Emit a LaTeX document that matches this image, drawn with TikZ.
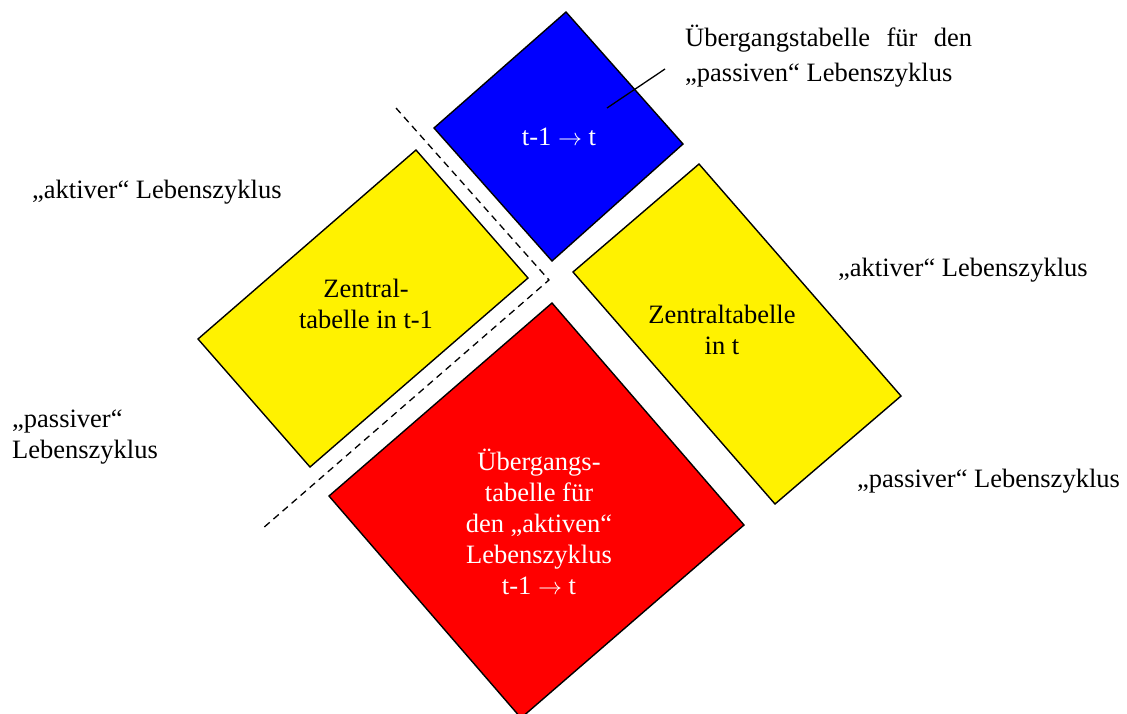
\documentclass[tikz,border=0pt]{standalone}
\usepackage{fontspec}
\setmainfont{Liberation Serif}
\newcommand{\tto}{\resizebox{24pt}{!}{$\rightarrow$}}
\begin{document}
\begin{tikzpicture}[x=1pt,y=-1pt,
  tile/.style={draw=black,line width=1.4pt,line join=miter},
  txt/.style={font=\fontsize{26.5}{31}\selectfont,inner sep=0pt,align=center},
  side/.style={txt,anchor=west,align=left},
  split/.style={line width=1.3pt,dash pattern=on 7pt off 5pt},
  lead/.style={line width=1.3pt}
]
\useasboundingbox (0,0) rectangle (1127,713);
\clip (0,0) rectangle (1127,713);

% corner points of the four tables
\coordinate (bT) at (566,12);  \coordinate (bR) at (683,144);
\coordinate (bB) at (552,261); \coordinate (bL) at (434,128);
\coordinate (lT) at (416,150); \coordinate (lR) at (528,278);
\coordinate (lB) at (310,467); \coordinate (lL) at (198,339);
\coordinate (rT) at (699,164); \coordinate (rR) at (901,396);
\coordinate (rB) at (775,504); \coordinate (rL) at (573,272);
\coordinate (aT) at (552,303); \coordinate (aR) at (744,525);
\coordinate (aB) at (521,718); \coordinate (aL) at (329,496);

% transition table, passive life cycle
\path[tile,fill=blue] (bT) -- (bR) -- (bB) -- (bL) -- cycle;
% central tables
\path[tile,fill=yellow] (lT) -- (lR) -- (lB) -- (lL) -- cycle;
\path[tile,fill=yellow] (rT) -- (rR) -- (rB) -- (rL) -- cycle;
% transition table, active life cycle
\path[tile,fill=red] (aT) -- (aR) -- (aB) -- (aL) -- cycle;

% dashed separator around the t-1 table
\coordinate (d1) at (396,108);
\coordinate (d2) at (549,280);
\coordinate (d3) at (262,529);
\draw[split] (d1) -- (d2) -- (d3);

% texts inside the tables
\node[txt,text=white] (blueT) at (559,137) {t-1 \tto\ t};
\node[txt] (leftT) at (366,304) {Zentral-\\tabelle in t-1};
\node[txt] (rightT) at (722,330) {Zentraltabelle\\in t};
\node[txt,text=white] (redT) at (539,522)
  {Übergangs-\\tabelle für\\den „aktiven“\\Lebenszyklus\\t-1 \tto\ t};

% side labels
\node[side] (la) at (32,192) {„aktiver“ Lebenszyklus};
\node[side] (lp) at (12,437) {„passiver“\\Lebenszyklus};
\node[side] (ra) at (838,270) {„aktiver“ Lebenszyklus};
\node[side] (rp) at (857,481) {„passiver“ Lebenszyklus};

% caption of the blue table with its leader line
\node[txt,align=left,anchor=west,
      font=\fontsize{26.5}{35}\selectfont] (cap) at (685,56)
  {\makebox[287pt][s]{Übergangstabelle für den}\\„passiven“ Lebenszyklus};
\coordinate (capEnd) at (665,69);
\coordinate (capPin) at (607,108);
\draw[lead] (capEnd) -- (capPin);
\end{tikzpicture}
\end{document}
